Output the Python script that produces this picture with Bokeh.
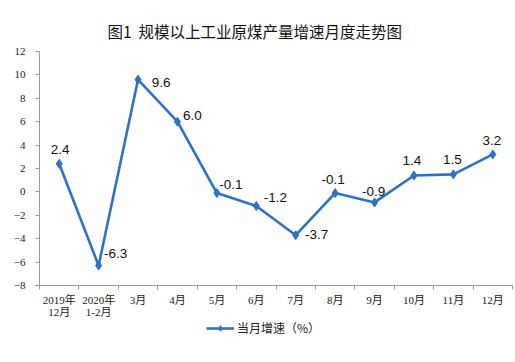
from bokeh.plotting import figure
from bokeh.layouts import column
from bokeh.models import ColumnDataSource, FixedTicker, Legend, LegendItem, Range1d, Title
from bokeh.embed import file_html
from bokeh.resources import INLINE
from bokeh.core.properties import value

categories = ["2019年\n12月", "2020年\n1-2月", "3月", "4月", "5月", "6月",
              "7月", "8月", "9月", "10月", "11月", "12月"]
growth = [2.4, -6.3, 9.6, 6.0, -0.1, -1.2, -3.7, -0.1, -0.9, 1.4, 1.5, 3.2]
y_ticks = [-8, -6, -4, -2, 0, 2, 4, 6, 8, 10, 12]
title_text = "图1\u00a0\u00a0规模以上工业原煤产量增速月度走势图"
legend_text = "当月增速（%）"

# label offsets (screen px)
lab_dx = [1, 17, 23, 15, 14, 19, 21, -2, -1, -2, -1, -1]
lab_dy = [-14, -12, 3, -6, -9, -8, -1, -14, -11, -15, -15, -14]

xs = [i + 0.5 for i in range(len(categories))]
src = ColumnDataSource(dict(x=xs, y=growth, t=[f"{v:.1f}" for v in growth],
                            dx=lab_dx, dy=lab_dy))

BLUE = "#2E72C2"
p = figure(width=514, height=320, output_backend="svg", toolbar_location=None,
           x_range=Range1d(0, 12), y_range=Range1d(-8, 12),
           min_border_left=39, min_border_right=2, min_border_top=51, min_border_bottom=32)
p.outline_line_color = None
p.grid.visible = False
p.background_fill_color = "white"

t = Title(text=title_text, align="left", offset=68, standoff=20, text_font="Noto Sans CJK SC",
          text_font_size="15.5px", text_font_style="normal", text_color="#111111")
p.title = t

p.line("x", "y", source=src, line_color=BLUE, line_width=2.6)
p.scatter("x", "y", source=src, marker="diamond", size=9, fill_color=BLUE, line_color=BLUE)
p.text("x", "y", text="t", source=src, x_offset="dx", y_offset="dy",
       text_align="center", text_baseline="middle",
       text_font=value("Liberation Sans"), text_font_size="13.5px", text_color="#111111")

xa = p.xaxis[0]
xa.ticker = FixedTicker(ticks=xs, minor_ticks=list(range(13)))
xa.major_label_overrides = {x: c for x, c in zip(xs, categories)}
xa.major_tick_in = 0
xa.major_tick_out = 0
xa.minor_tick_in = 0
xa.minor_tick_out = 4
xa.minor_tick_line_color = "#999999"
xa.axis_line_color = "#999999"
xa.major_label_text_font = "Liberation Serif, Noto Sans CJK SC"
xa.major_label_text_font_size = "11px"
xa.major_label_text_color = "#222222"
xa.major_label_text_line_height = 1.0
xa.major_label_standoff = 4

ya = p.yaxis[0]
ya.ticker = FixedTicker(ticks=y_ticks, minor_ticks=[])
ya.major_tick_in = 0
ya.major_tick_out = 4
ya.major_tick_line_color = "#999999"
ya.axis_line_color = "#999999"
ya.major_label_text_font = "Liberation Serif"
ya.major_label_text_font_size = "11px"
ya.major_label_text_color = "#222222"
ya.major_label_standoff = 10

# legend strip below the chart (series drawn out of view; only its legend shows)
lg = figure(width=514, height=40, output_backend="svg", toolbar_location=None,
            x_axis_type=None, y_axis_type=None, min_border=0,
            x_range=Range1d(100, 101), y_range=Range1d(100, 101))
lg.outline_line_color = None
lg.grid.visible = False
l_line = lg.line("x", "y", source=src, line_color=BLUE, line_width=2.6)
l_pts = lg.scatter("x", "y", source=src, marker="diamond", size=8, fill_color=BLUE, line_color=BLUE)
legend = Legend(items=[LegendItem(label=legend_text, renderers=[l_line, l_pts])],
                location=(167, 24), orientation="horizontal",
                border_line_color=None, background_fill_alpha=0,
                padding=0, margin=0, glyph_width=28, glyph_height=14, label_height=14,
                label_text_font="Noto Sans CJK SC", label_text_font_size="12px",
                label_text_color="#222222", label_standoff=3)
lg.add_layout(legend)

open("out.html", "w").write(file_html(column(p, lg, spacing=0), INLINE))
